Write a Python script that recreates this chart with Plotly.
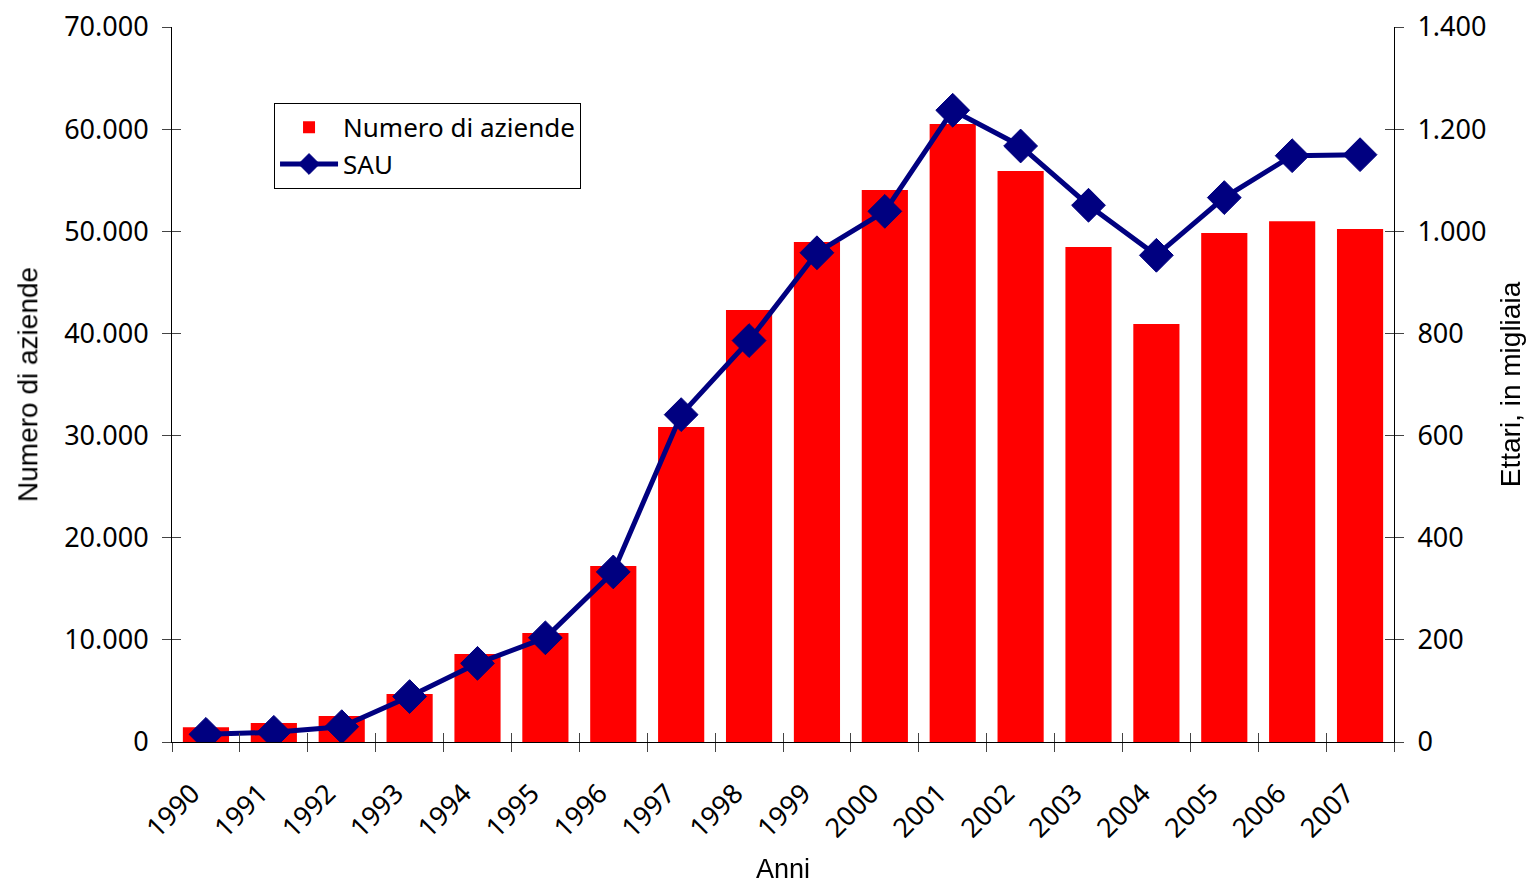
import plotly.graph_objects as go

anni = ["1990", "1991", "1992", "1993", "1994", "1995", "1996", "1997", "1998",
        "1999", "2000", "2001", "2002", "2003", "2004", "2005", "2006", "2007"]
aziende = [1440, 1860, 2550, 4700, 8620, 10670, 17230, 30840, 42290,
           48950, 54040, 60500, 55900, 48460, 40920, 49830, 50980, 50220]
sau = [15, 19, 30, 89, 154, 204, 333, 641, 786,
       958, 1039, 1237, 1167, 1051, 953, 1066, 1148, 1150]

left_ticks = [0, 10000, 20000, 30000, 40000, 50000, 60000, 70000]
right_ticks = [0, 200, 400, 600, 800, 1000, 1200, 1400]

tick_font = dict(family="Noto Sans", size=27, color="black")
ytitle_font = dict(family="Liberation Sans", size=28, color="black")
xtitle_font = dict(family="Liberation Sans", size=27, color="black")
axcol = "#000000"
tickcol = "#444444"

fig = go.Figure()
fig.add_trace(go.Bar(x=anni, y=aziende, name="Numero di aziende",
                     marker=dict(color="#FF0000", line=dict(width=0)),
                     xaxis="x", yaxis="y"))
fig.add_trace(go.Scatter(x=anni, y=sau, name="SAU", mode="lines+markers",
                         line=dict(color="#000080", width=5),
                         marker=dict(symbol="diamond", size=26, color="#000080",
                                     line=dict(color="#000080", width=1)),
                         xaxis="x", yaxis="y2"))
# invisible helper traces for the inner halves of crossing tick marks
fig.add_trace(go.Scatter(x=anni, y=aziende, mode="markers", opacity=0,
                         showlegend=False, hoverinfo="skip",
                         xaxis="x2", yaxis="y3"))
fig.add_trace(go.Scatter(x=anni, y=sau, mode="markers", opacity=0,
                         showlegend=False, hoverinfo="skip",
                         xaxis="x2", yaxis="y4"))

common_x = dict(type="category", categoryorder="array", categoryarray=anni,
                range=[-0.5, len(anni) - 0.5], tickson="boundaries", ticklen=9,
                tickcolor=tickcol, tickwidth=1, showgrid=False, zeroline=False,
                automargin=False)

fig.update_layout(
    width=1530, height=876,
    paper_bgcolor="white", plot_bgcolor="white",
    margin=dict(l=164, r=144, t=19, b=142, autoexpand=False),
    separators=",.",
    bargap=0.32,
    showlegend=True,
    legend=dict(x=0.0835, y=0.894, xanchor="left", yanchor="top",
                bordercolor="black", borderwidth=1, bgcolor="white",
                font=dict(family="Noto Sans", size=26, color="black"),
                tracegroupgap=4, itemwidth=58),
    xaxis=dict(**common_x, ticks="outside", showline=True, linecolor=axcol,
               linewidth=1, tickangle=-45, tickfont=tick_font,
               ticklabelstandoff=24, ticklabelshift=-14, ticklabeloverflow="allow",
               title=dict(text="Anni", font=xtitle_font, standoff=16),
               anchor="y"),
    xaxis2=dict(**common_x, ticks="inside", showline=False, showticklabels=False,
                overlaying="x", anchor="y3", side="bottom"),
    yaxis=dict(range=[0, 70000], tickvals=left_ticks, tickformat=",d",
               ticks="outside", ticklen=9, tickcolor=tickcol, showline=True,
               linecolor=axcol, linewidth=1, showgrid=False, zeroline=False,
               tickfont=tick_font, ticklabelstandoff=8, automargin=False,
               ticklabeloverflow="allow",
               title=dict(text="Numero di aziende", font=ytitle_font, standoff=18),
               anchor="x"),
    yaxis2=dict(range=[0, 1400], tickvals=right_ticks, tickformat=",d",
                ticks="outside", ticklen=9, tickcolor=tickcol, showline=True,
                linecolor=axcol, linewidth=1, showgrid=False, zeroline=False,
                tickfont=tick_font, ticklabelstandoff=8, automargin=False,
                ticklabeloverflow="allow",
                title=dict(text="Ettari, in migliaia", font=ytitle_font, standoff=14),
                overlaying="y", side="right", anchor="x"),
    yaxis3=dict(range=[0, 70000], tickvals=left_ticks, ticks="inside", ticklen=9,
                tickcolor=tickcol, showline=False, showgrid=False, zeroline=False,
                showticklabels=False, overlaying="y", side="left", anchor="x2",
                automargin=False),
    yaxis4=dict(range=[0, 1400], tickvals=right_ticks, ticks="inside", ticklen=9,
                tickcolor=tickcol, showline=False, showgrid=False, zeroline=False,
                showticklabels=False, overlaying="y", side="right", anchor="x2",
                automargin=False),
)

fig.write_html("out.html")
